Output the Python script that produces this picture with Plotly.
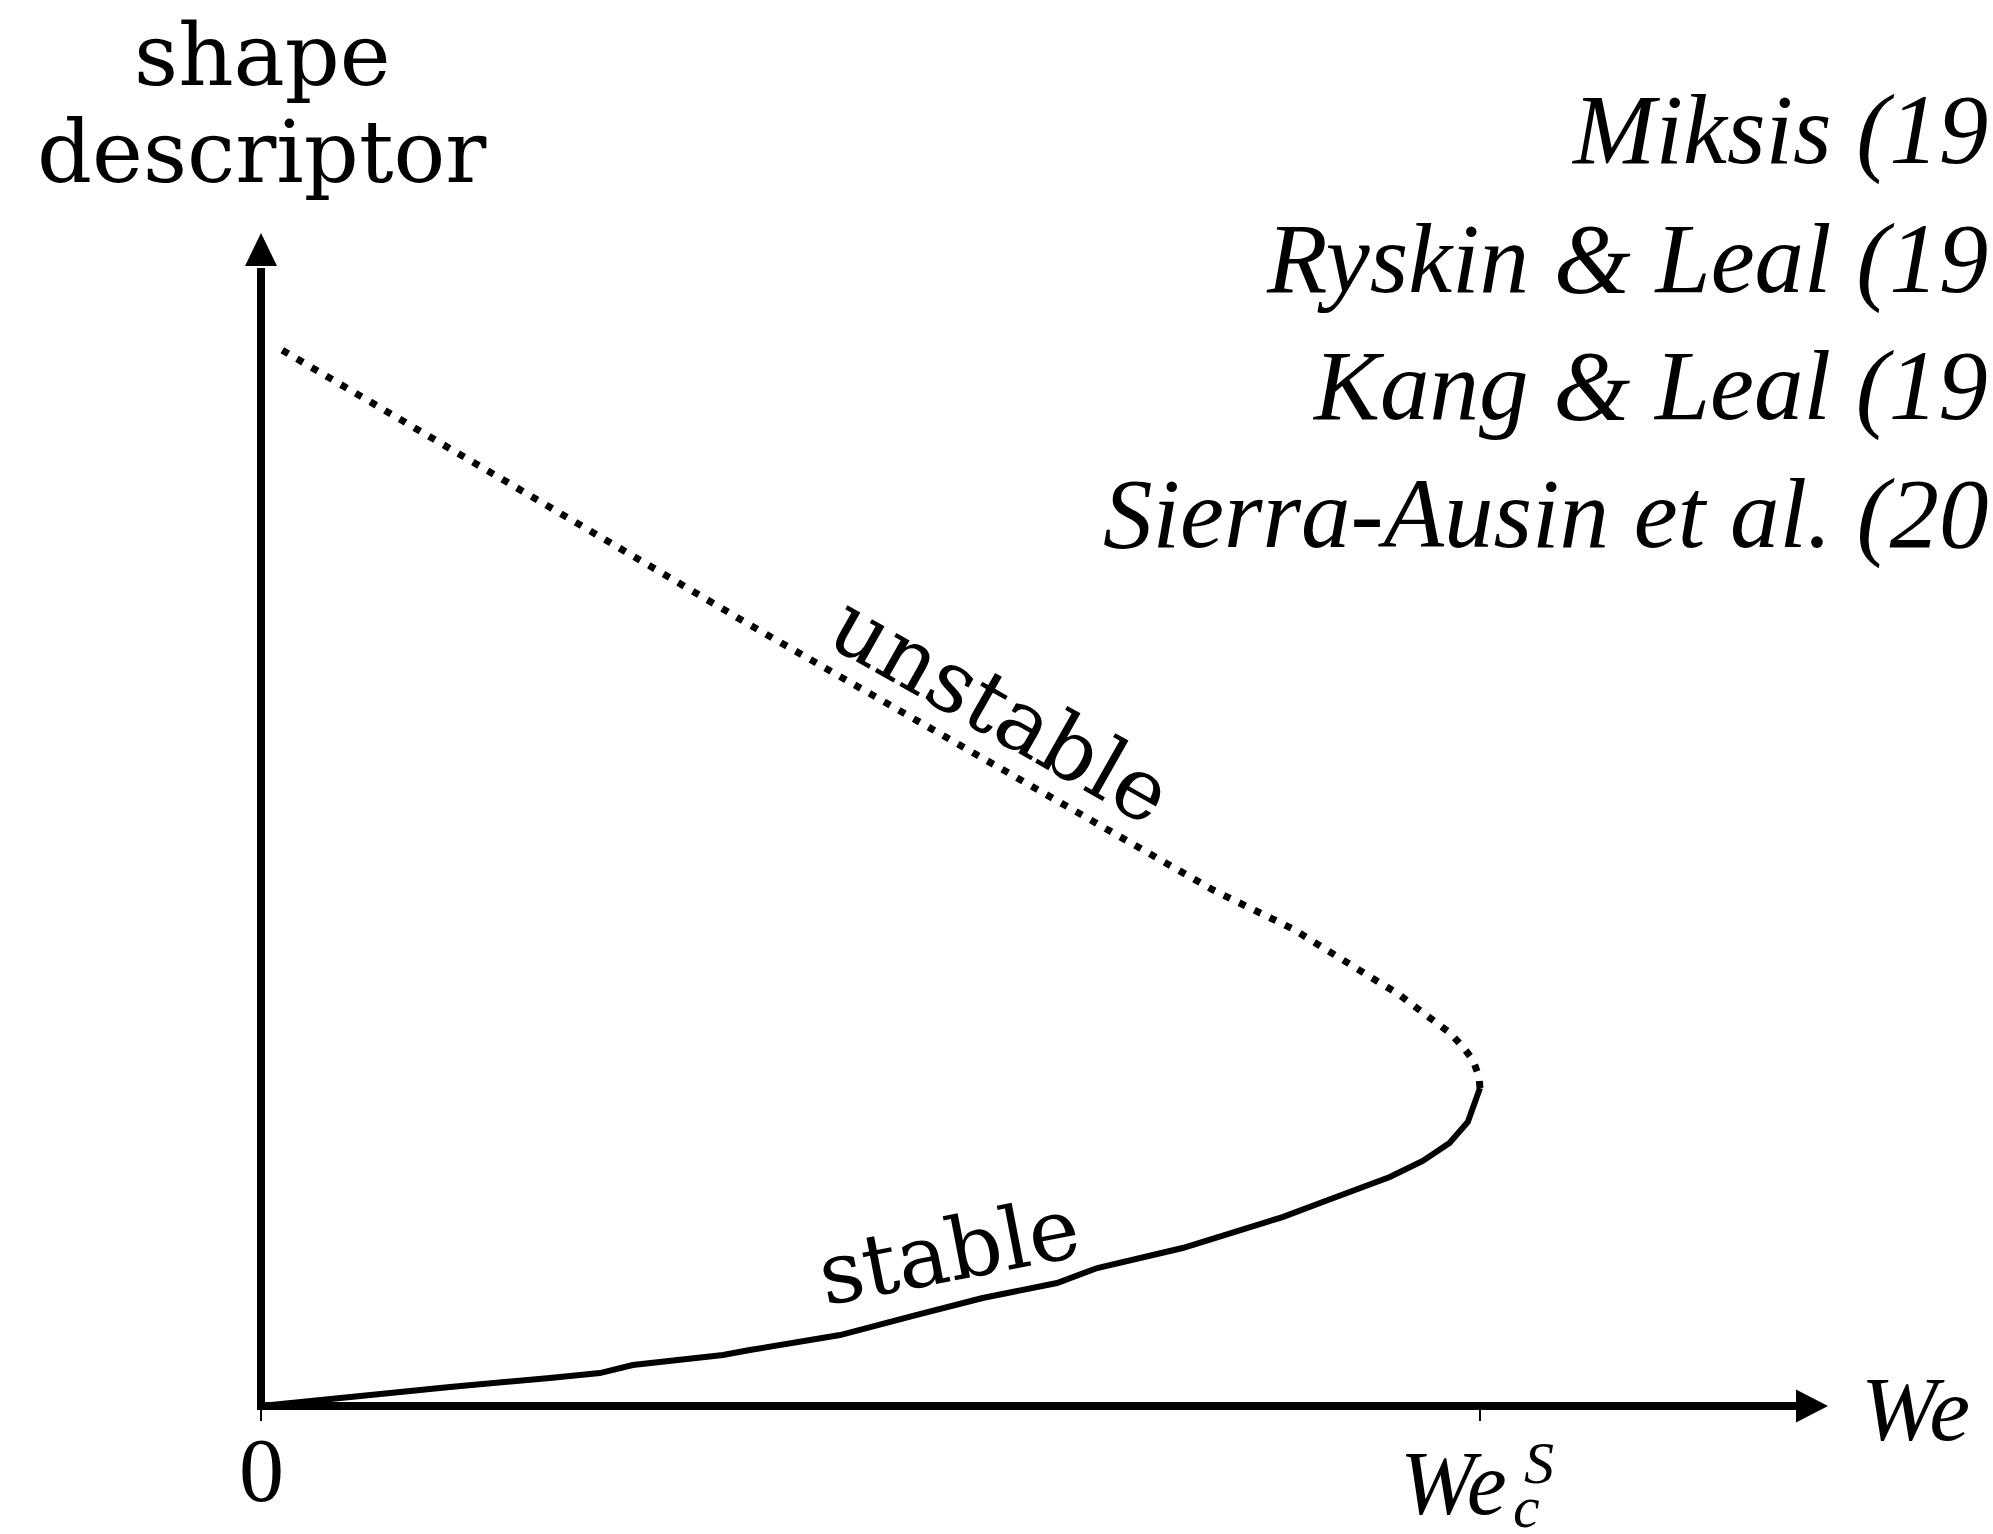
import plotly.graph_objects as go

# ---------------- data (We / We_c , shape descriptor, arbitrary units) ----------------
stable_we = [0.0, 0.032, 0.0935, 0.155, 0.237, 0.278, 0.305, 0.379, 0.401, 0.475, 0.538,
             0.592, 0.653, 0.686, 0.756, 0.811, 0.838, 0.871, 0.926, 0.953, 0.975, 0.990,
             0.998, 1.0]
stable_shape = [0.0, 0.0033, 0.009, 0.0156, 0.023, 0.027, 0.0336, 0.0418, 0.0459, 0.0582,
                0.0747, 0.0886, 0.1009, 0.1132, 0.1296, 0.1468, 0.155, 0.1674, 0.1879,
                0.201, 0.2157, 0.233, 0.2543, 0.2609]

unstable_we = [1.0, 0.9992, 0.9943, 0.9861, 0.9754, 0.9647, 0.9532, 0.9319, 0.918, 0.8934,
               0.8466, 0.781, 0.7334, 0.6473, 0.5652, 0.4832, 0.4011, 0.3191, 0.2371,
               0.155, 0.073, 0.0115]
unstable_shape = [0.2609, 0.2699, 0.2838, 0.2945, 0.306, 0.3142, 0.3224, 0.3388, 0.347,
                  0.3626, 0.3913, 0.4233, 0.4504, 0.4996, 0.5463, 0.5931, 0.6407, 0.6891,
                  0.7375, 0.7851, 0.8335, 0.8696]

tick_vals = [0, 1]
legend_labels = ["Miksis (19", "Ryskin &amp; Leal (19", "Kang &amp; Leal (19",
                 "Sierra-Ausin et al. (20"]

# ---------------- geometry ----------------
W, H = 1993, 1534
PX = 1219.0        # pixels per data unit
X0PX, Y0PX = 261, 1406


def dx(px):
    return (px - X0PX) / PX


def dy(py):
    return (Y0PX - py) / PX


SERIF = "DejaVu Serif"
CM = "Liberation Serif"

fig = go.Figure()
fig.add_trace(go.Scatter(x=stable_we, y=stable_shape, mode="lines",
                         line=dict(color="black", width=6), showlegend=False,
                         hoverinfo="skip"))
fig.add_trace(go.Scatter(x=unstable_we, y=unstable_shape, mode="lines",
                         line=dict(color="black", width=7, dash="7px,10px"),
                         showlegend=False, hoverinfo="skip"))

shapes = []
# axes lines
xa_tip, xa_base, xa_hw = dx(1828), dx(1796), 16.5 / PX
ya_tip, ya_base, ya_hw = dy(233), dy(266), 16.0 / PX
shapes.append(dict(type="line", xref="x", yref="y", x0=dx(257), y0=0, x1=xa_base + 2 / PX, y1=0,
                   line=dict(color="black", width=8)))
shapes.append(dict(type="line", xref="x", yref="y", x0=0, y0=dy(1410), x1=0, y1=ya_base - 2 / PX,
                   line=dict(color="black", width=8)))
shapes.append(dict(type="path", xref="x", yref="y",
                   path=f"M {xa_base} {-xa_hw} L {xa_tip} 0 L {xa_base} {xa_hw} Z",
                   fillcolor="black", line=dict(color="black", width=0)))
shapes.append(dict(type="path", xref="x", yref="y",
                   path=f"M {-ya_hw} {ya_base} L 0 {ya_tip} L {ya_hw} {ya_base} Z",
                   fillcolor="black", line=dict(color="black", width=0)))


def italic(size):
    return dict(family=CM, size=size, color="black", style="italic")


ann = []
# y-axis label
ann.append(dict(text="shape", x=dx(262), y=dy(55), xref="x", yref="y", showarrow=False,
                xanchor="center", yanchor="middle", font=dict(family=SERIF, size=86, color="black")))
ann.append(dict(text="descriptor", x=dx(262), y=dy(152), xref="x", yref="y", showarrow=False,
                xanchor="center", yanchor="middle", font=dict(family=SERIF, size=86, color="black")))
# legend-like references
leg_centers = [130, 259, 386, 514]
for lab, cy in zip(legend_labels, leg_centers):
    ann.append(dict(text=lab, x=dx(1990), y=dy(cy), xref="x", yref="y",
                    showarrow=False, xanchor="right", yanchor="middle", font=italic(99)))
# tick labels
ann.append(dict(text="0", x=0, y=dy(1470), xref="x", yref="y", showarrow=False,
                xanchor="center", yanchor="middle", font=dict(family=CM, size=90, color="black")))
ann.append(dict(text="We", x=dx(1453), y=dy(1483), xref="x", yref="y", showarrow=False,
                xanchor="center", yanchor="middle", font=italic(90)))
ann.append(dict(text="S", x=dx(1539), y=dy(1463), xref="x", yref="y", showarrow=False,
                xanchor="center", yanchor="middle", font=italic(60)))
ann.append(dict(text="c", x=dx(1526), y=dy(1507), xref="x", yref="y", showarrow=False,
                xanchor="center", yanchor="middle", font=italic(60)))
# x-axis label
ann.append(dict(text="We", x=dx(1915), y=dy(1409), xref="x", yref="y", showarrow=False,
                xanchor="center", yanchor="middle", font=italic(92)))
# branch labels
ann.append(dict(text="unstable", x=dx(1001), y=dy(709), xref="x", yref="y", showarrow=False,
                textangle=29.5, xanchor="center", yanchor="middle",
                font=dict(family=SERIF, size=86, color="black")))
ann.append(dict(text="stable", x=dx(948), y=dy(1251), xref="x", yref="y", showarrow=False,
                textangle=-11, xanchor="center", yanchor="middle",
                font=dict(family=SERIF, size=86, color="black")))

fig.update_layout(
    width=W, height=H, margin=dict(l=0, r=0, t=0, b=0),
    paper_bgcolor="white", plot_bgcolor="white",
    shapes=shapes, annotations=ann, showlegend=False,
    xaxis=dict(range=[dx(0), dx(W)], showgrid=False, zeroline=False, showline=False,
               tickvals=tick_vals, showticklabels=False, ticks="outside", ticklen=14,
               tickwidth=2, tickcolor="black", anchor="free", position=(H - Y0PX) / H,
               fixedrange=True),
    yaxis=dict(range=[dy(H), dy(0)], showgrid=False, zeroline=False, showline=False,
               showticklabels=False, ticks="", fixedrange=True),
)

fig.write_html("out.html")
